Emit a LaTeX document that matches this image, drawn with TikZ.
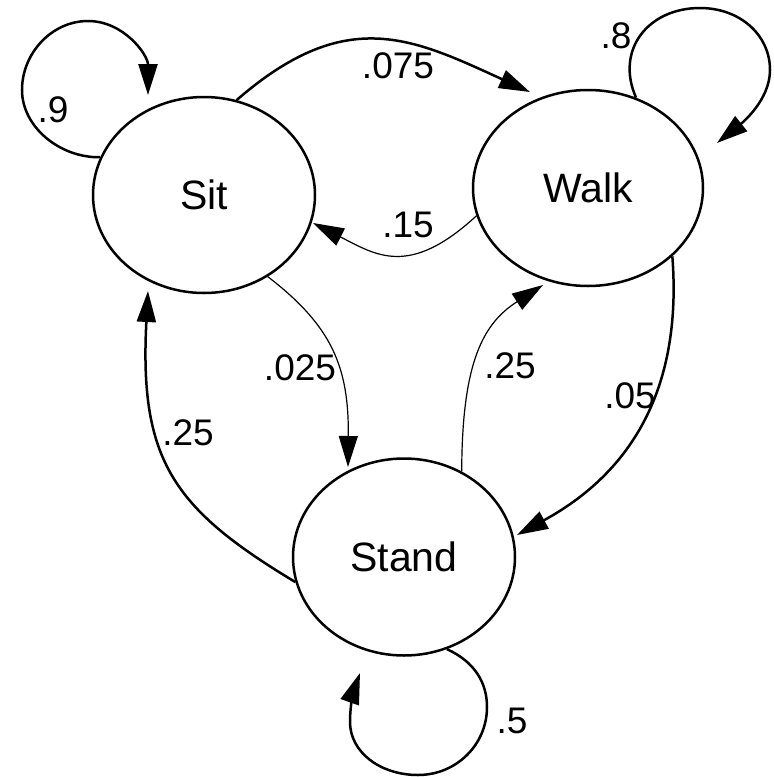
\documentclass[tikz,border=0pt]{standalone}
\usepackage{fontspec}
\setmainfont{Liberation Sans}
\usetikzlibrary{arrows.meta,shapes.geometric,calc}
\begin{document}
\begin{tikzpicture}[x=1pt,y=-1pt,
  state/.style={ellipse, draw, line width=2.5pt, inner sep=0pt,
    font=\fontsize{41}{49}\selectfont},
  thickedge/.style={line width=2.5pt, -{Triangle[length=31pt,width=19pt]}},
  thinedge/.style={line width=1.2pt, -{Triangle[length=31pt,width=19pt]}},
  prob/.style={anchor=base, inner sep=0pt, font=\fontsize{37}{44}\selectfont}]
\useasboundingbox[fill=white] (0,0) rectangle (774,777);

% states
\node[state, minimum width=222pt, minimum height=196pt] (sit)   at (204,195) {Sit};
\node[state, minimum width=230pt, minimum height=196pt] (walk)  at (588,188) {Walk};
\node[state, minimum width=222pt, minimum height=197pt] (stand) at (404,557) {Stand};

% arrow tip positions next to each state
\coordinate (sitloop)   at ($(sit.center)+(-56,-100)$);
\coordinate (sitin1)    at ($(sit.center)+(109,28)$);
\coordinate (sitin2)    at ($(sit.center)+(-56,96)$);
\coordinate (walkloop)  at ($(walk.center)+(129,-45)$);
\coordinate (walkin1)   at ($(walk.center)+(-58,-96)$);
\coordinate (walkin2)   at ($(walk.center)+(-45,97)$);
\coordinate (standloop) at ($(stand.center)+(-44,116)$);
\coordinate (standin1)  at ($(stand.center)+(-56,-90)$);
\coordinate (standin2)  at ($(stand.center)+(113,-22)$);

% self loops
\draw[thickedge] (sit.160) .. controls (60,158) and (22,127) .. (22,90)
  .. controls (22,53) and (52,21) .. (88,21)
  .. controls (124,21) and (148,55) .. (sitloop);
\draw[thickedge] (walk.62.7) .. controls (615,50) and (648,8) .. (700,8)
  .. controls (740,8) and (770,35) .. (770,70)
  .. controls (770,100) and (742,123) .. (walkloop);
\draw[thickedge] (stand.-65) .. controls (475,662) and (487,683) .. (487,707)
  .. controls (487,745) and (456,775) .. (418,775)
  .. controls (380,775) and (350,752) .. (350,722)
  .. controls (350,705) and (354,690) .. (standloop);

% transitions
\draw[thickedge] (sit.71.2) .. controls (346,5) and (412,38) .. (walkin1);
\draw[thinedge]  (walk.194.4) .. controls (409,278) and (376,255) .. (sitin1);
\draw[thinedge]  (sit.-52.4) .. controls (332,326) and (349,367) .. (standin1);
\draw[thinedge]  (stand.56.3) .. controls (462,360) and (484,323) .. (walkin2);
\draw[thickedge] (walk.-39.8) .. controls (684,408) and (614,482) .. (standin2);
\draw[thickedge] (stand.193.2) .. controls (174,509) and (139,461) .. (sitin2);

% transition probabilities
\node[prob] (p99) at (53,122)  {.9};
\node[prob] (p88) at (616,48)  {.8};
\node[prob] (p55) at (512,733) {.5};
\node[prob] (psw) at (398,78)  {.075};
\node[prob] (pws) at (408,237) {.15};
\node[prob] (pst) at (300,380) {.025};
\node[prob] (ptw) at (510,378) {.25};
\node[prob] (pwt) at (630,408) {.05};
\node[prob] (pts) at (188,445) {.25};
\end{tikzpicture}
\end{document}
